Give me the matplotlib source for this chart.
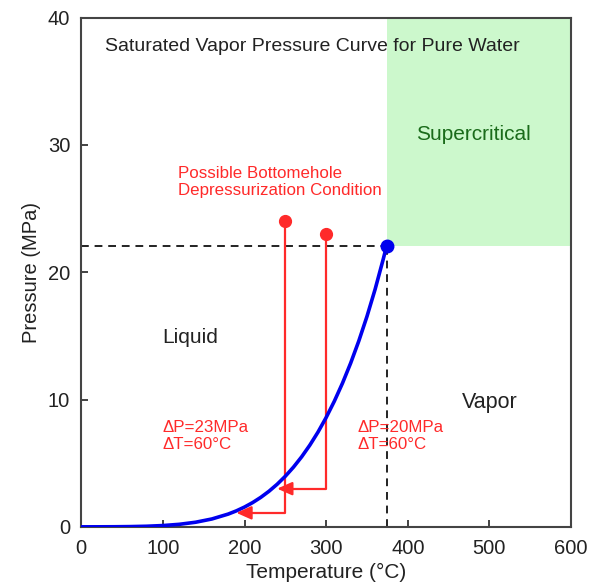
import matplotlib
matplotlib.use("Agg")
import matplotlib.pyplot as plt

plt.rcParams['font.family'] = ['Liberation Sans', 'DejaVu Sans']

# Saturated vapor pressure of water
temp_c = [0, 20, 40, 60, 80, 100, 120, 140, 160, 180, 190, 200, 210, 220, 230, 240,
          250, 260, 270, 280, 290, 300, 310, 320, 330, 340, 350, 360, 370, 374]
press_mpa = [0.0006, 0.0023, 0.0074, 0.0199, 0.0474, 0.1014, 0.1985, 0.3614, 0.618,
             1.0027, 1.2551, 1.5549, 1.9077, 2.3196, 2.7971, 3.3469, 3.9762, 4.6923,
             5.503, 6.4166, 7.4418, 8.5879, 9.8651, 11.284, 12.858, 14.601, 16.529,
             18.666, 21.044, 22.06]

crit_t, crit_p = 374, 22.1

# Depressurization paths: start (T, P), end pressure, end temperature
paths_start_t = [250, 300]
paths_start_p = [24, 23]
paths_end_p = [1.1, 3.0]
paths_end_t = [190, 240]

fig = plt.figure(figsize=(5.93, 5.88), dpi=100)
ax = fig.add_axes([0.137, 0.104, 0.826, 0.866])

ax.set_xlim(0, 600)
ax.set_ylim(0, 40)

# supercritical region
ax.fill_between([crit_t, 600], crit_p, 40, color='#ccf8cc', zorder=0, linewidth=0)

# dashed critical lines
ax.plot([0, crit_t], [crit_p, crit_p], ls=(0, (4, 3)), color='#222222', lw=1.4, zorder=2)
ax.plot([crit_t, crit_t], [0, crit_p], ls=(0, (4, 3)), color='#222222', lw=1.4, zorder=2)

# curve
ax.plot(temp_c, press_mpa, color='#0000ee', lw=2.6, zorder=4)
ax.plot([crit_t], [crit_p], 'o', color='#0000ee', ms=9, zorder=5)

red = '#ff2a2a'
for t0, p0, p1, t1 in zip(paths_start_t, paths_start_p, paths_end_p, paths_end_t):
    ax.plot([t0], [p0], 'o', color=red, ms=8.5, zorder=5)
    ax.plot([t0, t0, t1 + 12], [p0, p1, p1], color=red, lw=1.6, zorder=3)
    ax.annotate('', xy=(t1, p1), xytext=(t1 + 16, p1),
                arrowprops=dict(arrowstyle='-|>,head_length=0.9,head_width=0.4',
                                color=red, lw=1.6, shrinkA=0, shrinkB=0), zorder=6)

ax.text(29, 37.7, 'Saturated Vapor Pressure Curve for Pure Water', fontsize=14,
        va='center', ha='left', color='#222222')
ax.text(481, 30.8, 'Supercritical', fontsize=15, color='#1a6b1a', va='center', ha='center')
ax.text(118, 27.1, 'Possible Bottomehole\nDepressurization Condition', fontsize=12.2,
        color=red, va='center', ha='left', linespacing=1.2)
ax.text(133, 14.9, 'Liquid', fontsize=15, va='center', ha='center', color='#222222')
ax.text(500, 9.8, 'Vapor', fontsize=15.5, va='center', ha='center', color='#222222')
ax.text(100, 7.15, 'ΔP=23MPa\nΔT=60°C', fontsize=12.2, color=red, va='center', ha='left',
        linespacing=1.2)
ax.text(339, 7.15, 'ΔP=20MPa\nΔT=60°C', fontsize=12.2, color=red, va='center', ha='left',
        linespacing=1.2)

ax.set_xticks([0, 100, 200, 300, 400, 500, 600])
ax.set_yticks([0, 10, 20, 30, 40])
ax.tick_params(direction='in', labelsize=14.5, length=5, width=1.2, colors='#222222')
ax.tick_params(axis='x', pad=9)
ax.tick_params(axis='y', pad=8)
for s in ax.spines.values():
    s.set_linewidth(1.5)
    s.set_color('#444444')

ax.set_xlabel('Temperature (°C)', fontsize=15, labelpad=3, color='#222222')
ax.set_ylabel('Pressure (MPa)', fontsize=14.5, labelpad=5, color='#222222')

fig.savefig('out.png', dpi=100)
